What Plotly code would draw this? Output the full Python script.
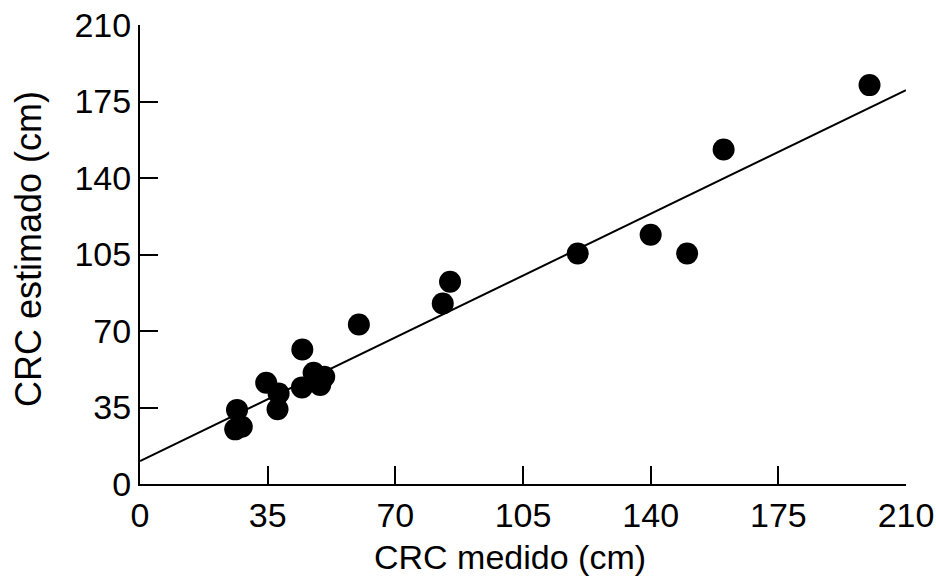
import plotly.graph_objects as go

crc_medido = [26.1, 27.9, 26.6, 34.6, 37.7, 38.0, 44.4, 44.5, 47.6, 50.5, 49.4,
              60.0, 83.0, 85.0, 120.0, 140.0, 150.0, 160.0, 200.0]
crc_estimado = [25.0, 26.2, 33.9, 46.3, 34.2, 41.4, 44.2, 61.5, 50.9, 49.1, 45.3,
                73.0, 82.6, 92.5, 105.5, 114.0, 105.5, 153.0, 182.5]

fit_x = [0, 210]
fit_y = [10.5, 180.2]

tick_vals = [0, 35, 70, 105, 140, 175, 210]
tick_text = ["0", "35", "70", "105", "140", "175", "210"]

FONT = "Liberation Sans, Arial, sans-serif"

fig = go.Figure()
fig.add_trace(go.Scatter(x=fit_x, y=fit_y, mode="lines",
                         line=dict(color="black", width=2), showlegend=False))
fig.add_trace(go.Scatter(x=crc_medido, y=crc_estimado, mode="markers",
                         marker=dict(color="black", size=22, line=dict(width=0)),
                         showlegend=False))

axis_common = dict(
    range=[0, 210], tickmode="array", tickvals=tick_vals, ticktext=tick_text,
    showgrid=False, zeroline=False, showline=True, linecolor="black", linewidth=2,
    ticks="inside", ticklen=18, tickwidth=2, tickcolor="black", automargin=False,
    tickfont=dict(family=FONT, size=34, color="black"),
)

fig.update_layout(
    width=936, height=578,
    margin=dict(l=140, r=30, t=25, b=94),
    plot_bgcolor="white", paper_bgcolor="white",
    xaxis=dict(**axis_common),
    yaxis=dict(**axis_common),
    annotations=[
        dict(text="CRC medido (cm)", xref="paper", yref="paper",
             x=(510 - 140) / 766, y=(484 - 557) / 459,
             xanchor="center", yanchor="middle", showarrow=False,
             font=dict(family=FONT, size=34, color="black")),
        dict(text="CRC estimado (cm)", xref="paper", yref="paper",
             x=(28 - 140) / 766, y=(484 - 249) / 459, textangle=-90,
             xanchor="center", yanchor="middle", showarrow=False,
             font=dict(family=FONT, size=36, color="black")),
    ],
)

fig.write_html("out.html")
